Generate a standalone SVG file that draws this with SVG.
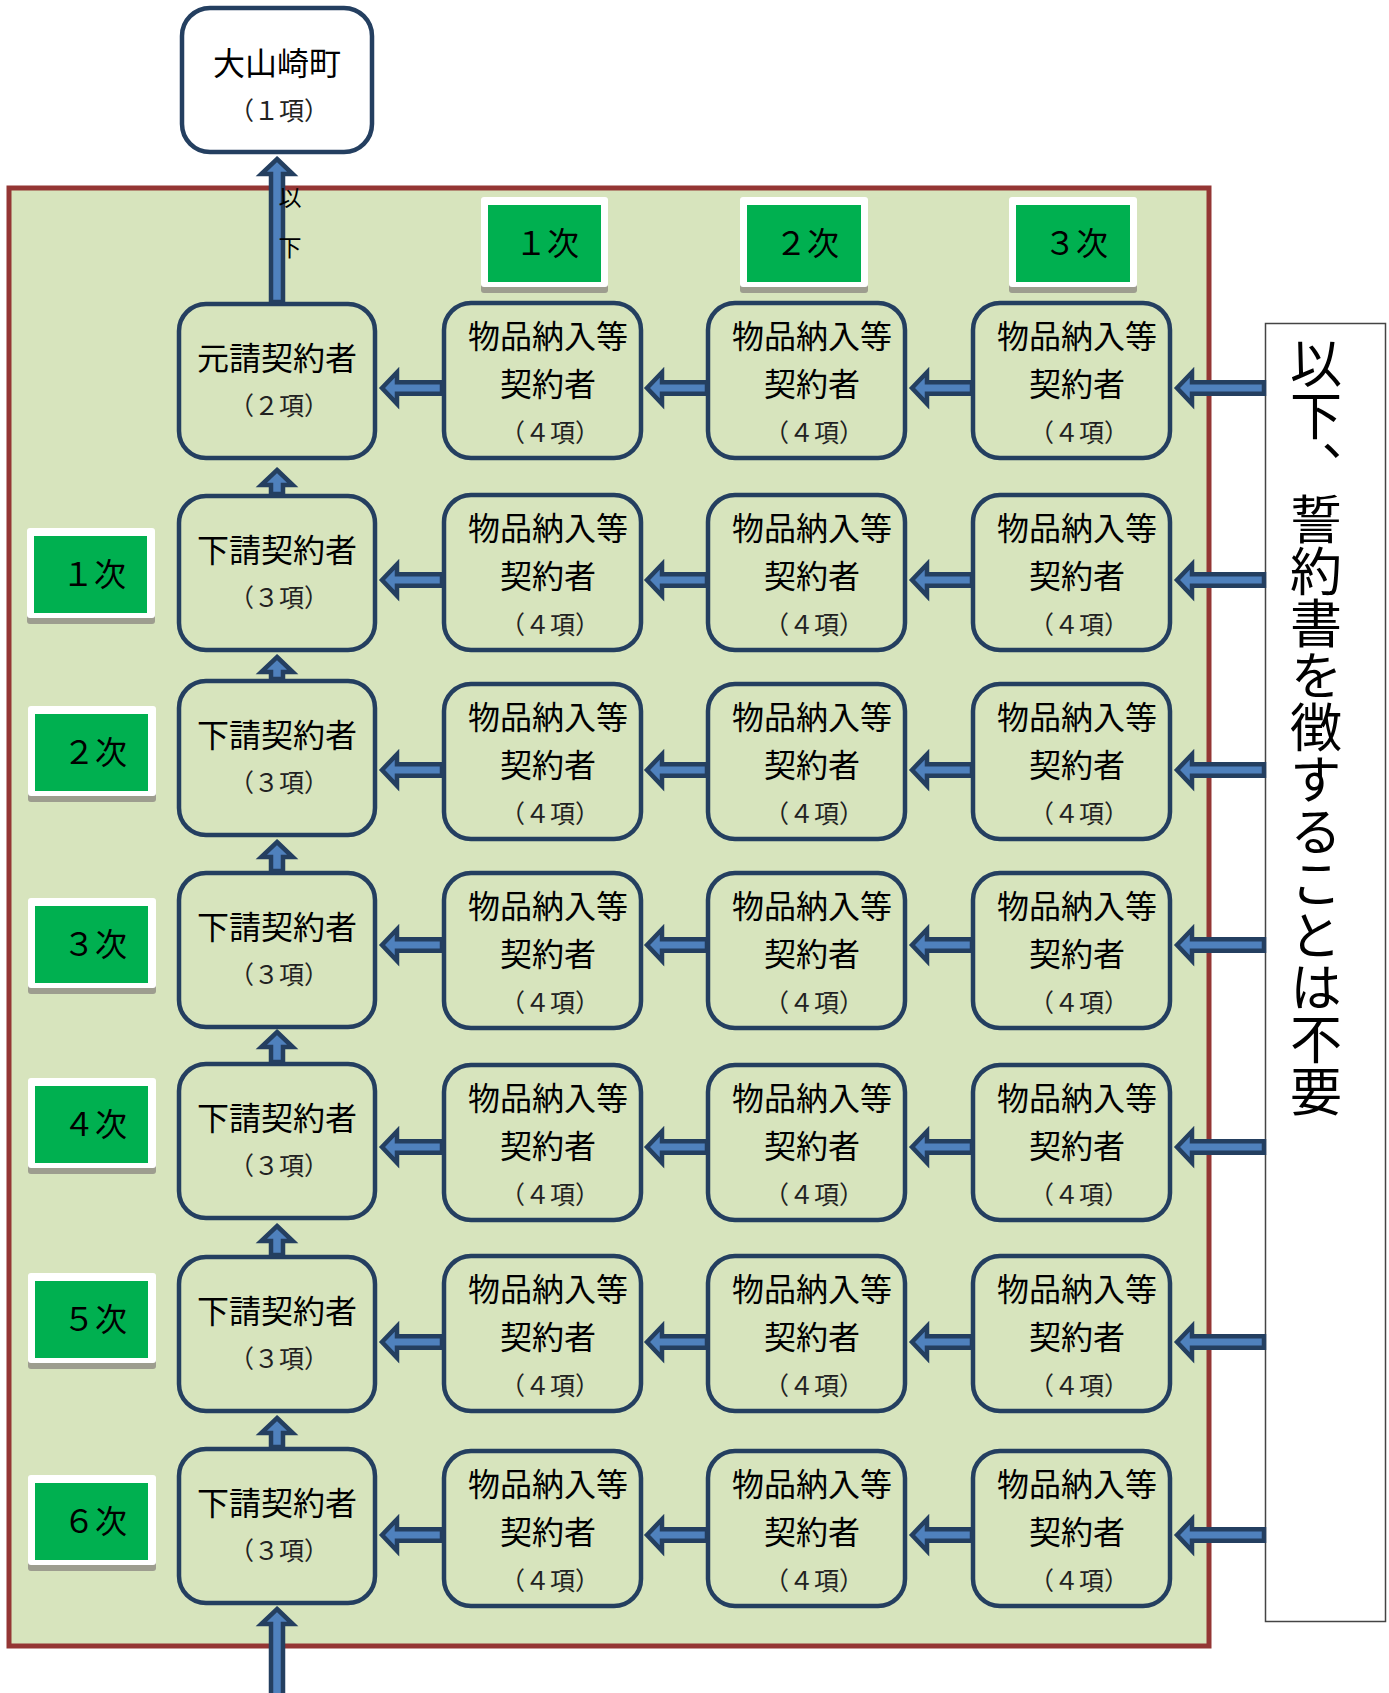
<svg xmlns="http://www.w3.org/2000/svg" xmlns:xlink="http://www.w3.org/1999/xlink" width="1389" height="1693" viewBox="0 0 1389 1693">
<style>
.frame{fill:#d7e4bd;stroke:#943634;stroke-width:5}
.box{fill:#d7e4bd;stroke:#243f60;stroke-width:4.5}
.top{fill:#fff;stroke:#243f60;stroke-width:4.5}
.t{font-family:"Noto Sans CJK JP","Noto Sans CJK SC",sans-serif;text-anchor:middle;fill:#000}
.b{font-size:32px}
.s{font-size:25px;fill:#222}
.arr{fill:#4f81bd;stroke:#243f60;stroke-width:4.5}
.lw{fill:#fff}
.ls{fill:#9d9d8f}
.lg{fill:#00b050}
.note{fill:#fff;stroke:#444;stroke-width:1.5}
.v{font-family:"Noto Sans CJK JP","Noto Sans CJK SC",sans-serif;writing-mode:vertical-rl;fill:#000}
</style>
<defs>
<path id="aS" d="M0,0 L15,-15.75 L15,-5.75 L60,-5.75 L60,5.75 L15,5.75 L15,15.75 Z"/>
<path id="aL" d="M0,0 L15,-15.75 L15,-5.75 L87,-5.75 L87,5.75 L15,5.75 L15,15.75 Z"/>
</defs>
<rect class="frame" x="9" y="188" width="1200" height="1458"/>
<g id="note">
<rect class="note" x="1265.5" y="323.5" width="120" height="1298"/>
<text class="v" x="1316" y="337" font-size="52">以下、誓約書を徴することは不要</text>
</g>
<g id="town"><rect class="top" x="182" y="8" width="190" height="144" rx="28"/><text class="t b" x="277" y="75">大山崎町</text><text class="t s" x="279" y="120">（１項）</text></g>
<g id="lbl-top-1"><rect class="ls" x="481" y="203" width="127" height="90" rx="3"/><rect class="lw" x="481" y="197" width="127" height="90" rx="3"/><rect class="lg" x="488" y="205" width="113" height="77"/><text class="t b" x="547" y="255">１次</text></g>
<g id="lbl-top-2"><rect class="ls" x="740" y="203" width="128" height="90" rx="3"/><rect class="lw" x="740" y="197" width="128" height="90" rx="3"/><rect class="lg" x="747" y="205" width="114" height="77"/><text class="t b" x="807" y="255">２次</text></g>
<g id="lbl-top-3"><rect class="ls" x="1009" y="203" width="128" height="90" rx="3"/><rect class="lw" x="1009" y="197" width="128" height="90" rx="3"/><rect class="lg" x="1016" y="205" width="114" height="77"/><text class="t b" x="1076" y="255">３次</text></g>
<g id="lbl-1"><rect class="ls" x="27" y="534" width="128" height="90" rx="3"/><rect class="lw" x="27" y="528" width="128" height="90" rx="3"/><rect class="lg" x="34" y="536" width="113" height="77"/><text class="t b" x="94" y="586">１次</text></g>
<g id="lbl-2"><rect class="ls" x="28" y="712" width="128" height="90" rx="3"/><rect class="lw" x="28" y="706" width="128" height="90" rx="3"/><rect class="lg" x="35" y="714" width="113" height="77"/><text class="t b" x="95" y="764">２次</text></g>
<g id="lbl-3"><rect class="ls" x="28" y="904" width="128" height="90" rx="3"/><rect class="lw" x="28" y="898" width="128" height="90" rx="3"/><rect class="lg" x="35" y="906" width="113" height="77"/><text class="t b" x="95" y="956">３次</text></g>
<g id="lbl-4"><rect class="ls" x="28" y="1084" width="128" height="90" rx="3"/><rect class="lw" x="28" y="1078" width="128" height="90" rx="3"/><rect class="lg" x="35" y="1086" width="113" height="77"/><text class="t b" x="95" y="1136">４次</text></g>
<g id="lbl-5"><rect class="ls" x="28" y="1279" width="128" height="90" rx="3"/><rect class="lw" x="28" y="1273" width="128" height="90" rx="3"/><rect class="lg" x="35" y="1281" width="113" height="77"/><text class="t b" x="95" y="1331">５次</text></g>
<g id="lbl-6"><rect class="ls" x="28" y="1481" width="128" height="90" rx="3"/><rect class="lw" x="28" y="1475" width="128" height="90" rx="3"/><rect class="lg" x="35" y="1483" width="113" height="77"/><text class="t b" x="95" y="1533">６次</text></g>

<g id="prime"><rect class="box" x="179" y="304" width="196" height="154" rx="27"/><text class="t b" x="277" y="370">元請契約者</text><text class="t s" x="279" y="415">（２項）</text></g>
<g id="sub-1"><rect class="box" x="179" y="496" width="196" height="154" rx="27"/><text class="t b" x="277" y="562">下請契約者</text><text class="t s" x="279" y="607">（３項）</text></g>
<g id="sub-2"><rect class="box" x="179" y="681" width="196" height="154" rx="27"/><text class="t b" x="277" y="747">下請契約者</text><text class="t s" x="279" y="792">（３項）</text></g>
<g id="sub-3"><rect class="box" x="179" y="873" width="196" height="154" rx="27"/><text class="t b" x="277" y="939">下請契約者</text><text class="t s" x="279" y="984">（３項）</text></g>
<g id="sub-4"><rect class="box" x="179" y="1064" width="196" height="154" rx="27"/><text class="t b" x="277" y="1130">下請契約者</text><text class="t s" x="279" y="1175">（３項）</text></g>
<g id="sub-5"><rect class="box" x="179" y="1257" width="196" height="154" rx="27"/><text class="t b" x="277" y="1323">下請契約者</text><text class="t s" x="279" y="1368">（３項）</text></g>
<g id="sub-6"><rect class="box" x="179" y="1449" width="196" height="154" rx="27"/><text class="t b" x="277" y="1515">下請契約者</text><text class="t s" x="279" y="1560">（３項）</text></g>

<g id="g0-1"><rect class="box" x="444" y="303" width="197" height="155" rx="27"/><text class="t b" x="548" y="348">物品納入等</text><text class="t b" x="548" y="396">契約者</text><text class="t s" x="550" y="442">（４項）</text></g>
<g id="g0-2"><rect class="box" x="708" y="303" width="197" height="155" rx="27"/><text class="t b" x="812" y="348">物品納入等</text><text class="t b" x="812" y="396">契約者</text><text class="t s" x="814" y="442">（４項）</text></g>
<g id="g0-3"><rect class="box" x="973" y="303" width="197" height="155" rx="27"/><text class="t b" x="1077" y="348">物品納入等</text><text class="t b" x="1077" y="396">契約者</text><text class="t s" x="1079" y="442">（４項）</text></g>

<g id="g1-1"><rect class="box" x="444" y="495" width="197" height="155" rx="27"/><text class="t b" x="548" y="540">物品納入等</text><text class="t b" x="548" y="588">契約者</text><text class="t s" x="550" y="634">（４項）</text></g>
<g id="g1-2"><rect class="box" x="708" y="495" width="197" height="155" rx="27"/><text class="t b" x="812" y="540">物品納入等</text><text class="t b" x="812" y="588">契約者</text><text class="t s" x="814" y="634">（４項）</text></g>
<g id="g1-3"><rect class="box" x="973" y="495" width="197" height="155" rx="27"/><text class="t b" x="1077" y="540">物品納入等</text><text class="t b" x="1077" y="588">契約者</text><text class="t s" x="1079" y="634">（４項）</text></g>

<g id="g2-1"><rect class="box" x="444" y="684" width="197" height="155" rx="27"/><text class="t b" x="548" y="729">物品納入等</text><text class="t b" x="548" y="777">契約者</text><text class="t s" x="550" y="823">（４項）</text></g>
<g id="g2-2"><rect class="box" x="708" y="684" width="197" height="155" rx="27"/><text class="t b" x="812" y="729">物品納入等</text><text class="t b" x="812" y="777">契約者</text><text class="t s" x="814" y="823">（４項）</text></g>
<g id="g2-3"><rect class="box" x="973" y="684" width="197" height="155" rx="27"/><text class="t b" x="1077" y="729">物品納入等</text><text class="t b" x="1077" y="777">契約者</text><text class="t s" x="1079" y="823">（４項）</text></g>

<g id="g3-1"><rect class="box" x="444" y="873" width="197" height="155" rx="27"/><text class="t b" x="548" y="918">物品納入等</text><text class="t b" x="548" y="966">契約者</text><text class="t s" x="550" y="1012">（４項）</text></g>
<g id="g3-2"><rect class="box" x="708" y="873" width="197" height="155" rx="27"/><text class="t b" x="812" y="918">物品納入等</text><text class="t b" x="812" y="966">契約者</text><text class="t s" x="814" y="1012">（４項）</text></g>
<g id="g3-3"><rect class="box" x="973" y="873" width="197" height="155" rx="27"/><text class="t b" x="1077" y="918">物品納入等</text><text class="t b" x="1077" y="966">契約者</text><text class="t s" x="1079" y="1012">（４項）</text></g>

<g id="g4-1"><rect class="box" x="444" y="1065" width="197" height="155" rx="27"/><text class="t b" x="548" y="1110">物品納入等</text><text class="t b" x="548" y="1158">契約者</text><text class="t s" x="550" y="1204">（４項）</text></g>
<g id="g4-2"><rect class="box" x="708" y="1065" width="197" height="155" rx="27"/><text class="t b" x="812" y="1110">物品納入等</text><text class="t b" x="812" y="1158">契約者</text><text class="t s" x="814" y="1204">（４項）</text></g>
<g id="g4-3"><rect class="box" x="973" y="1065" width="197" height="155" rx="27"/><text class="t b" x="1077" y="1110">物品納入等</text><text class="t b" x="1077" y="1158">契約者</text><text class="t s" x="1079" y="1204">（４項）</text></g>

<g id="g5-1"><rect class="box" x="444" y="1256" width="197" height="155" rx="27"/><text class="t b" x="548" y="1301">物品納入等</text><text class="t b" x="548" y="1349">契約者</text><text class="t s" x="550" y="1395">（４項）</text></g>
<g id="g5-2"><rect class="box" x="708" y="1256" width="197" height="155" rx="27"/><text class="t b" x="812" y="1301">物品納入等</text><text class="t b" x="812" y="1349">契約者</text><text class="t s" x="814" y="1395">（４項）</text></g>
<g id="g5-3"><rect class="box" x="973" y="1256" width="197" height="155" rx="27"/><text class="t b" x="1077" y="1301">物品納入等</text><text class="t b" x="1077" y="1349">契約者</text><text class="t s" x="1079" y="1395">（４項）</text></g>

<g id="g6-1"><rect class="box" x="444" y="1451" width="197" height="155" rx="27"/><text class="t b" x="548" y="1496">物品納入等</text><text class="t b" x="548" y="1544">契約者</text><text class="t s" x="550" y="1590">（４項）</text></g>
<g id="g6-2"><rect class="box" x="708" y="1451" width="197" height="155" rx="27"/><text class="t b" x="812" y="1496">物品納入等</text><text class="t b" x="812" y="1544">契約者</text><text class="t s" x="814" y="1590">（４項）</text></g>
<g id="g6-3"><rect class="box" x="973" y="1451" width="197" height="155" rx="27"/><text class="t b" x="1077" y="1496">物品納入等</text><text class="t b" x="1077" y="1544">契約者</text><text class="t s" x="1079" y="1590">（４項）</text></g>

<g id="connectors">
<path class="arr" d="M277,159 L292.75,174 L283,174 L283,302 L271,302 L271,174 L261.25,174 Z"/>
<path class="arr" d="M277,470 L292.75,485 L283,485 L283,494 L271,494 L271,485 L261.25,485 Z"/>
<path class="arr" d="M277,657 L292.75,672 L283,672 L283,679 L271,679 L271,672 L261.25,672 Z"/>
<path class="arr" d="M277,842 L292.75,857 L283,857 L283,871 L271,871 L271,857 L261.25,857 Z"/>
<path class="arr" d="M277,1032 L292.75,1047 L283,1047 L283,1062 L271,1062 L271,1047 L261.25,1047 Z"/>
<path class="arr" d="M277,1226 L292.75,1241 L283,1241 L283,1255 L271,1255 L271,1241 L261.25,1241 Z"/>
<path class="arr" d="M277,1418 L292.75,1433 L283,1433 L283,1447 L271,1447 L271,1433 L261.25,1433 Z"/>
<path class="arr" d="M277,1609 L292.75,1624 L283,1624 L283,1700 L271,1700 L271,1624 L261.25,1624 Z"/>
<use class="arr" xlink:href="#aS" href="#aS" x="382" y="388"/>
<use class="arr" xlink:href="#aS" href="#aS" x="647" y="388"/>
<use class="arr" xlink:href="#aS" href="#aS" x="912" y="388"/>
<use class="arr" xlink:href="#aL" href="#aL" x="1177" y="388"/>
<use class="arr" xlink:href="#aS" href="#aS" x="382" y="580"/>
<use class="arr" xlink:href="#aS" href="#aS" x="647" y="580"/>
<use class="arr" xlink:href="#aS" href="#aS" x="912" y="580"/>
<use class="arr" xlink:href="#aL" href="#aL" x="1177" y="580"/>
<use class="arr" xlink:href="#aS" href="#aS" x="382" y="770"/>
<use class="arr" xlink:href="#aS" href="#aS" x="647" y="770"/>
<use class="arr" xlink:href="#aS" href="#aS" x="912" y="770"/>
<use class="arr" xlink:href="#aL" href="#aL" x="1177" y="770"/>
<use class="arr" xlink:href="#aS" href="#aS" x="382" y="945"/>
<use class="arr" xlink:href="#aS" href="#aS" x="647" y="945"/>
<use class="arr" xlink:href="#aS" href="#aS" x="912" y="945"/>
<use class="arr" xlink:href="#aL" href="#aL" x="1177" y="945"/>
<use class="arr" xlink:href="#aS" href="#aS" x="382" y="1147"/>
<use class="arr" xlink:href="#aS" href="#aS" x="647" y="1147"/>
<use class="arr" xlink:href="#aS" href="#aS" x="912" y="1147"/>
<use class="arr" xlink:href="#aL" href="#aL" x="1177" y="1147"/>
<use class="arr" xlink:href="#aS" href="#aS" x="382" y="1342"/>
<use class="arr" xlink:href="#aS" href="#aS" x="647" y="1342"/>
<use class="arr" xlink:href="#aS" href="#aS" x="912" y="1342"/>
<use class="arr" xlink:href="#aL" href="#aL" x="1177" y="1342"/>
<use class="arr" xlink:href="#aS" href="#aS" x="382" y="1535"/>
<use class="arr" xlink:href="#aS" href="#aS" x="647" y="1535"/>
<use class="arr" xlink:href="#aS" href="#aS" x="912" y="1535"/>
<use class="arr" xlink:href="#aL" href="#aL" x="1177" y="1535"/>
</g>
<text class="v" x="290" y="186" font-size="23" letter-spacing="27">以下</text>
</svg>
